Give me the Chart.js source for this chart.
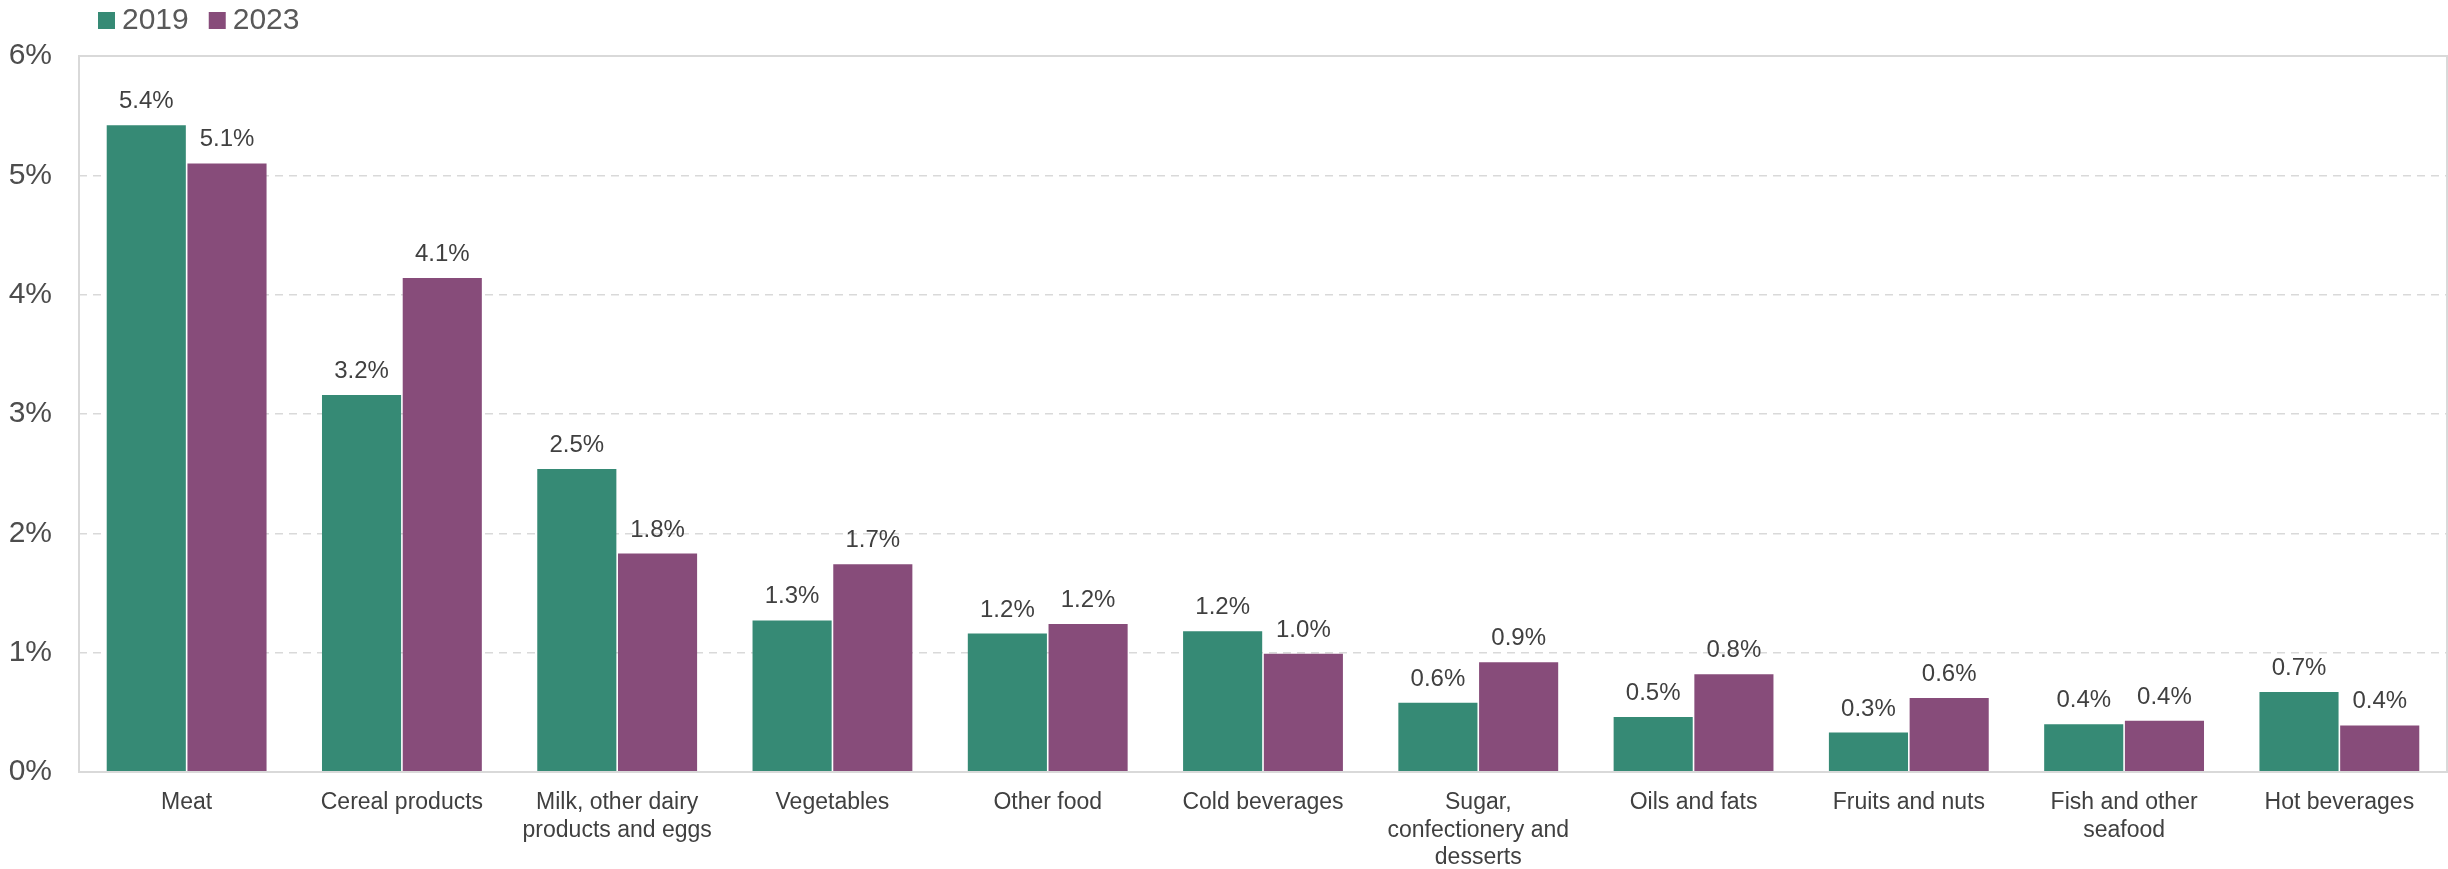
<!DOCTYPE html>
<html>
<head>
<meta charset="utf-8">
<script src="https://cdn.jsdelivr.net/npm/chart.js@4.4.1/dist/chart.umd.min.js"></script>
<style>
  html, body { margin: 0; padding: 0; background: #fff; }
  #wrap { width: 2448px; height: 869px; position: relative; }
</style>
</head>
<body>
<div id="wrap"><canvas id="foodChart"></canvas></div>
<script>
const categories = [
    'Meat', 'Cereal products', ['Milk, other dairy', 'products and eggs'], 'Vegetables',
    'Other food', 'Cold beverages', ['Sugar,', 'confectionery and', 'desserts'],
    'Oils and fats', 'Fruits and nuts', ['Fish and other', 'seafood'], 'Hot beverages'
];
const seriesNames = ['2019', '2023'];
const values2019 = [5.42, 3.16, 2.54, 1.27, 1.16, 1.18, 0.58, 0.46, 0.33, 0.40, 0.67];
const values2023 = [5.10, 4.14, 1.83, 1.74, 1.24, 0.99, 0.92, 0.82, 0.62, 0.43, 0.39];
const yTicks = [0, 1, 2, 3, 4, 5, 6];

const colors = ['#368a75', '#874c7a'];
const fontFamily = '"Liberation Sans", Arial, sans-serif';

// etichette sopra le barre
const barLabels = {
    id: 'barLabels',
    afterDatasetsDraw(chart) {
        const ctx = chart.ctx;
        ctx.save();
        ctx.font = '24px ' + fontFamily;
        ctx.fillStyle = '#404040';
        ctx.textAlign = 'center';
        ctx.textBaseline = 'alphabetic';
        chart.data.datasets.forEach((ds, i) => {
            chart.getDatasetMeta(i).data.forEach((bar, j) => {
                ctx.fillText(ds.data[j].toFixed(1) + '%', bar.x, bar.y - 17);
            });
        });
        ctx.restore();
    }
};

// bordo grigio attorno all'area del grafico
const plotFrame = {
    id: 'plotFrame',
    afterDraw(chart) {
        const a = chart.chartArea;
        const ctx = chart.ctx;
        ctx.save();
        ctx.strokeStyle = '#d9d9d9';
        ctx.lineWidth = 2;
        ctx.strokeRect(a.left, a.top, a.right - a.left, a.bottom - a.top);
        ctx.restore();
    }
};

// legenda in alto a sinistra
const topLegend = {
    id: 'topLegend',
    afterDraw(chart) {
        const ctx = chart.ctx;
        ctx.save();
        ctx.font = '30px ' + fontFamily;
        ctx.textBaseline = 'middle';
        let x = 98;
        seriesNames.forEach((name, i) => {
            ctx.fillStyle = colors[i];
            ctx.fillRect(x, 12, 17, 17);
            ctx.fillStyle = '#595959';
            ctx.fillText(name, x + 24, 21);
            x += 24 + ctx.measureText(name).width + 20;
        });
        ctx.restore();
    }
};

new Chart(document.getElementById('foodChart'), {
    type: 'bar',
    data: {
        labels: categories,
        datasets: [
            { label: seriesNames[0], data: values2019, backgroundColor: colors[0] },
            { label: seriesNames[1], data: values2023, backgroundColor: colors[1] }
        ]
    },
    options: {
        responsive: true,
        maintainAspectRatio: false,
        animation: false,
        layout: { padding: { top: 56, left: 0, right: 1, bottom: 0 } },
        datasets: {
            bar: { categoryPercentage: 0.75, barPercentage: 0.98 }
        },
        plugins: {
            legend: { display: false },
            tooltip: { enabled: false }
        },
        scales: {
            x: {
                grid: { display: false },
                border: { display: false },
                afterFit(scale) { scale.height = 97; },
                ticks: {
                    color: '#404040',
                    padding: 9,
                    maxRotation: 0,
                    autoSkip: false,
                    font: { family: fontFamily, size: 23, lineHeight: 1.2 }
                }
            },
            y: {
                min: 0,
                max: 6,
                afterBuildTicks(axis) {
                    axis.ticks = yTicks.map(v => ({ value: v }));
                },
                afterFit(scale) { scale.width = 79; },
                grid: { color: '#d9d9d9', lineWidth: 1.5, drawTicks: false },
                border: { display: false, dash: [8, 6] },
                ticks: {
                    color: '#4d4d4d',
                    padding: 27,
                    font: { family: fontFamily, size: 30 },
                    callback: v => v + '%'
                }
            }
        }
    },
    plugins: [barLabels, plotFrame, topLegend]
});
</script>
</body>
</html>
